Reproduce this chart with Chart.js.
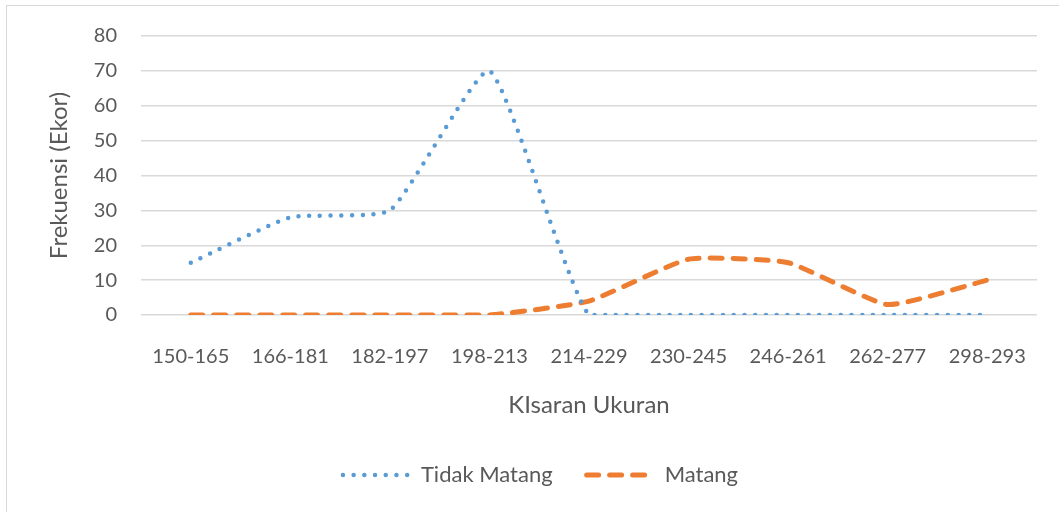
<!DOCTYPE html>
<html>
<head>
<meta charset="utf-8">
<script src="https://cdn.jsdelivr.net/npm/chart.js@4"></script>
<style>
  body { margin: 0; background: #fff; }
  #frame {
    position: absolute;
    left: 6px;
    top: 5px;
    width: 1100px;
    height: 600px;
    border: 1.5px solid #d9d9d9;
  }
  #wrap { position: absolute; left: 0; top: 0; width: 1059px; height: 512px; }
</style>
</head>
<body>
<div id="frame"></div>
<div id="wrap"><canvas id="chart" width="1059" height="512"></canvas></div>
<script>
const categories = ["150-165", "166-181", "182-197", "198-213", "214-229", "230-245", "246-261", "262-277", "298-293"];
const tidakMatang = [15, 28, 30, 70, 0, 0, 0, 0, 0];
const matang = [0, 0, 0, 0, 4, 16, 15, 3, 10];

const textColor = "#595959";
const gridColor = "#d9d9d9";
const fontFamily = "Lato, 'Open Sans', sans-serif";

new Chart(document.getElementById("chart"), {
  type: "line",
  data: {
    labels: categories,
    datasets: [
      {
        label: "Tidak Matang",
        data: tidakMatang,
        borderColor: "#5b9bd5",
        backgroundColor: "#5b9bd5",
        borderWidth: 4.5,
        borderDash: [0, 10.7],
        borderCapStyle: "round",
        pointRadius: 0,
        tension: 0.15,
      },
      {
        label: "Matang",
        data: matang,
        borderColor: "#ed7d31",
        backgroundColor: "#ed7d31",
        borderWidth: 5,
        borderDash: [12, 11],
        borderCapStyle: "round",
        pointRadius: 0,
        tension: 0.15,
      },
    ],
  },
  options: {
    responsive: false,
    animation: false,
    layout: {
      padding: { top: 35, right: 22, bottom: 16, left: 44 },
    },
    plugins: {
      tooltip: { enabled: false },
      legend: {
        position: "bottom",
        labels: {
          color: textColor,
          font: { family: fontFamily, size: 22 },
          usePointStyle: true,
          pointStyle: "line",
          pointStyleWidth: 67,
          padding: 34,
          // point style legend items don't pick up the dash, copy it from the dataset
          generateLabels: (chart) => {
            const items = Chart.defaults.plugins.legend.labels.generateLabels(chart);
            items.forEach((item) => {
              const ds = chart.data.datasets[item.datasetIndex];
              item.lineDash = ds.borderDash;
              item.lineCap = ds.borderCapStyle;
              item.lineWidth = ds.borderWidth;
              item.strokeStyle = ds.borderColor;
            });
            return items;
          },
        },
      },
    },
    scales: {
      x: {
        offset: true,
        grid: { display: false, drawTicks: false },
        border: { display: false },
        ticks: {
          color: textColor,
          font: { family: fontFamily, size: 20 },
          padding: 30,
          maxRotation: 0,
        },
        title: {
          display: true,
          text: "KIsaran Ukuran",
          color: textColor,
          font: { family: fontFamily, size: 24 },
          padding: { top: 0, bottom: 10 },
        },
        afterFit: (scale) => {
          scale.height = 115;
        },
      },
      y: {
        min: 0,
        max: 80,
        grid: { color: gridColor, lineWidth: 1.5, drawTicks: false },
        border: { display: false },
        ticks: {
          stepSize: 10,
          color: textColor,
          font: { family: fontFamily, size: 20 },
          padding: 24,
        },
        title: {
          display: true,
          text: "Frekuensi (Ekor)",
          color: textColor,
          font: { family: fontFamily, size: 24 },
          padding: { top: 1, bottom: 0 },
        },
        afterFit: (scale) => {
          scale.width = 97;
        },
      },
    },
  },
});
</script>
</body>
</html>
